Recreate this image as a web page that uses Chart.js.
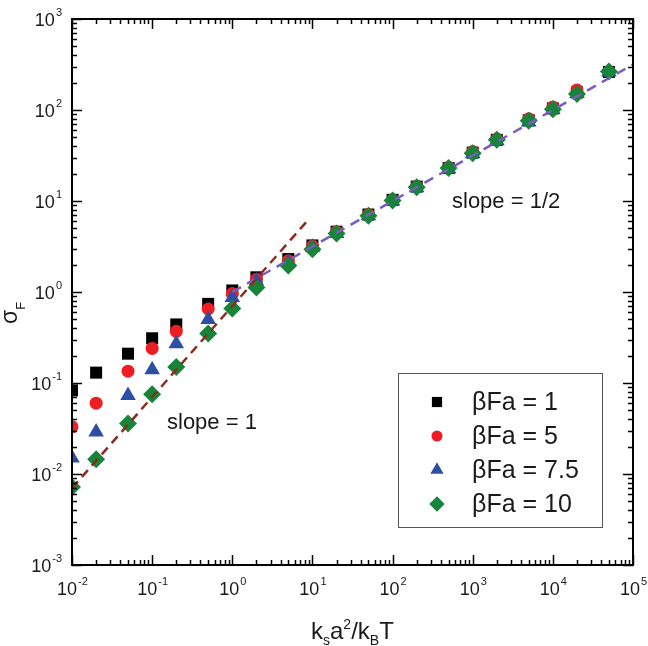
<!DOCTYPE html>
<html>
<head>
<meta charset="utf-8">
<script src="https://cdn.jsdelivr.net/npm/chart.js@4"></script>
<style>
  html, body { margin: 0; padding: 0; background: #fff; }
  canvas { display: block; }
</style>
</head>
<body>
<canvas id="chart" width="648" height="646"></canvas>
<script>
/* sigma_F vs k_s a^2 / k_B T, log-log */

const kValues = [0.01, 0.02, 0.05, 0.1, 0.2, 0.5, 1, 2, 5, 10, 20, 50, 100, 200, 500, 1000, 2000, 5000, 10000, 20000, 50000];

const sigmaFa1   = [0.083, 0.13, 0.21, 0.31, 0.44, 0.74, 1.04, 1.45, 2.3, 3.25, 4.6, 7.1, 10.3, 14.4, 23, 34, 47, 77, 104, 156, 262];
const sigmaFa5   = [0.033, 0.06, 0.135, 0.24, 0.37, 0.65, 0.96, 1.38, 2.2, 3.2, 4.6, 7.1, 10.3, 14.5, 23.5, 35, 48, 80, 108, 166, 265];
const sigmaFa7_5 = [0.015, 0.029, 0.073, 0.14, 0.27, 0.5, 0.87, 1.32, 2.1, 3.1, 4.4, 6.9, 10, 14, 22.5, 33, 46, 74, 101, 152, 262];
const sigmaFa10  = [0.0072, 0.0145, 0.036, 0.075, 0.15, 0.35, 0.66, 1.12, 1.96, 2.95, 4.4, 6.9, 10.1, 14.2, 23, 33.5, 47, 76, 102, 150, 265];

// guide lines (slope 1 and slope 1/2)
const slope1X = [0.01, 9];
const slope1Y = [0.007, 6.3];
const slopeHalfX = [1, 100000];
const slopeHalfY = [1, 316.2];

const xDecades = [-2, -1, 0, 1, 2, 3, 4, 5];
const yDecades = [-3, -2, -1, 0, 1, 2, 3];

const seriesLabels = ['βFa = 1', 'βFa = 5', 'βFa = 7.5', 'βFa = 10'];
const seriesColors = ['#000000', '#ee1d23', '#2c4fa3', '#17843a'];
const seriesShapes = ['rect', 'circle', 'triangle', 'rectRot'];
const seriesRadius = [8.5, 6.5, 9, 9];
const seriesValues = [sigmaFa1, sigmaFa5, sigmaFa7_5, sigmaFa10];

const FONT = '"Liberation Sans", Arial, Helvetica, sans-serif';

function pts(xs, ys) {
  return xs.map((x, i) => ({ x: x, y: ys[i] }));
}

const datasets = seriesValues.map((vals, i) => ({
  label: seriesLabels[i],
  data: pts(kValues, vals),
  pointStyle: seriesShapes[i],
  pointRadius: seriesRadius[i],
  pointHoverRadius: seriesRadius[i],
  backgroundColor: seriesColors[i],
  borderColor: seriesColors[i],
  borderWidth: 0,
  showLine: false,
  order: 4 - i,
}));

datasets.push({
  type: 'line',
  label: 'slope 1',
  data: pts(slope1X, slope1Y),
  borderColor: '#8e2a1d',
  borderWidth: 2.5,
  borderDash: [9, 6],
  pointRadius: 0,
  fill: false,
  order: 0,
});
datasets.push({
  type: 'line',
  label: 'slope 1/2',
  data: pts(slopeHalfX, slopeHalfY),
  borderColor: '#7a5cbc',
  borderWidth: 2.5,
  borderDash: [10, 7],
  pointRadius: 0,
  fill: false,
  order: 0,
});

// draws a "10^n" label; align = 'center' or 'right'
function drawPow(ctx, n, x, y, align) {
  const base = '10';
  const exp = String(n);
  ctx.font = '18px ' + FONT;
  const wb = ctx.measureText(base).width;
  ctx.font = '11px ' + FONT;
  const we = ctx.measureText(exp).width;
  let x0 = align === 'right' ? x - wb - we : x - (wb + we) / 2;
  ctx.textAlign = 'left';
  ctx.textBaseline = 'alphabetic';
  ctx.font = '18px ' + FONT;
  ctx.fillText(base, x0, y);
  ctx.font = '11px ' + FONT;
  ctx.fillText(exp, x0 + wb + 1, y - 10);
}

// draws runs of [text, size, dy] one after another
function drawRuns(ctx, runs, x, y) {
  let cx = x;
  runs.forEach(([t, size, dy]) => {
    ctx.font = size + 'px ' + FONT;
    ctx.fillText(t, cx, y + dy);
    cx += ctx.measureText(t).width;
  });
}

const framePlugin = {
  id: 'frame',
  afterDraw(chart) {
    const ctx = chart.ctx;
    const area = chart.chartArea;
    const xs = chart.scales.x;
    const ys = chart.scales.y;
    ctx.save();
    ctx.strokeStyle = '#000';
    ctx.fillStyle = '#111';

    // frame
    ctx.lineWidth = 2;
    ctx.strokeRect(area.left, area.top, area.right - area.left, area.bottom - area.top);

    // inward ticks
    ctx.lineWidth = 1.5;
    ctx.beginPath();
    xDecades.forEach((d) => {
      for (let k = 1; k <= 9; k++) {
        const v = k * Math.pow(10, d);
        if (v > xs.max * 1.0001) break;
        const px = Math.round(xs.getPixelForValue(v)) + 0.5;
        const len = k === 1 ? 10 : 5;
        ctx.moveTo(px, area.bottom);
        ctx.lineTo(px, area.bottom - len);
        ctx.moveTo(px, area.top);
        ctx.lineTo(px, area.top + len);
      }
    });
    yDecades.forEach((d) => {
      for (let k = 1; k <= 9; k++) {
        const v = k * Math.pow(10, d);
        if (v > ys.max * 1.0001) break;
        const py = Math.round(ys.getPixelForValue(v)) + 0.5;
        const len = k === 1 ? 10 : 5;
        ctx.moveTo(area.left, py);
        ctx.lineTo(area.left + len, py);
        ctx.moveTo(area.right, py);
        ctx.lineTo(area.right - len, py);
      }
    });
    ctx.stroke();

    // tick labels
    ctx.fillStyle = '#1a1a1a';
    xDecades.forEach((d) => {
      drawPow(ctx, d, xs.getPixelForValue(Math.pow(10, d)), area.bottom + 30, 'center');
    });
    yDecades.forEach((d) => {
      drawPow(ctx, d, area.left - 11, ys.getPixelForValue(Math.pow(10, d)) + 7, 'right');
    });

    // axis titles
    ctx.textAlign = 'left';
    ctx.textBaseline = 'alphabetic';
    drawRuns(ctx, [['k', 24, 0], ['s', 14, 6], ['a', 24, 0], ['2', 14, -10], ['/k', 24, 0], ['B', 14, 6], ['T', 24, 0]], 311, 639);

    ctx.save();
    ctx.translate(17, 324);
    ctx.rotate(-Math.PI / 2);
    drawRuns(ctx, [['σ', 23, 0], ['F', 13, 8]], 0, 0);
    ctx.restore();

    // slope annotations
    ctx.font = '22px ' + FONT;
    ctx.fillText('slope = 1', 167, 429);
    ctx.fillText('slope = 1/2', 452, 208);

    // legend
    const lx = 398, ly = 373, lw = 204, lh = 154;
    ctx.fillStyle = '#fff';
    ctx.fillRect(lx, ly, lw, lh);
    ctx.lineWidth = 1;
    ctx.strokeStyle = '#555';
    ctx.strokeRect(lx + 0.5, ly + 0.5, lw, lh);
    const rowY = [402, 436, 470, 504];
    seriesLabels.forEach((label, i) => {
      ctx.fillStyle = seriesColors[i];
      ctx.strokeStyle = seriesColors[i];
      Chart.helpers.drawPoint(ctx, {
        pointStyle: seriesShapes[i],
        radius: seriesRadius[i] * 0.85,
        rotation: 0,
        borderWidth: 0,
      }, 437, rowY[i]);
      ctx.fillStyle = '#1a1a1a';
      ctx.font = '25px ' + FONT;
      ctx.textBaseline = 'middle';
      ctx.fillText(label, 472, rowY[i] + 1);
    });
    ctx.restore();
  },
};

new Chart(document.getElementById('chart').getContext('2d'), {
  type: 'scatter',
  data: { datasets: datasets },
  options: {
    responsive: false,
    animation: false,
    devicePixelRatio: 1,
    layout: { padding: { left: 72, top: 19, right: 15, bottom: 81 } },
    plugins: {
      legend: { display: false },
      tooltip: { enabled: false },
    },
    scales: {
      x: { type: 'logarithmic', min: 0.01, max: 100000, display: false },
      y: { type: 'logarithmic', min: 0.001, max: 1000, display: false },
    },
  },
  plugins: [framePlugin],
});
</script>
</body>
</html>
